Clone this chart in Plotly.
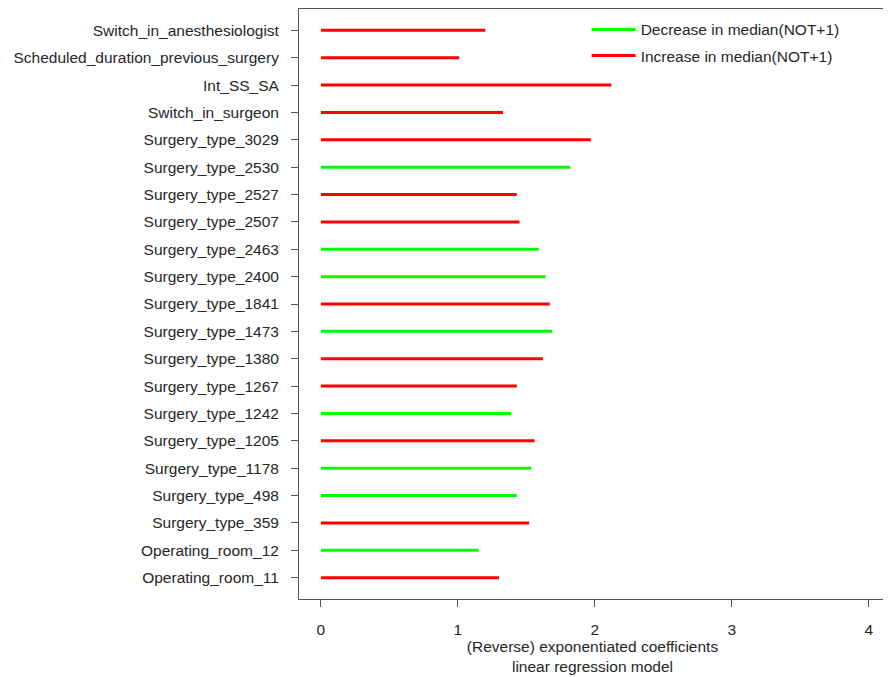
import plotly.graph_objects as go

# categories listed from top to bottom
variables = [
    "Switch_in_anesthesiologist",
    "Scheduled_duration_previous_surgery",
    "Int_SS_SA",
    "Switch_in_surgeon",
    "Surgery_type_3029",
    "Surgery_type_2530",
    "Surgery_type_2527",
    "Surgery_type_2507",
    "Surgery_type_2463",
    "Surgery_type_2400",
    "Surgery_type_1841",
    "Surgery_type_1473",
    "Surgery_type_1380",
    "Surgery_type_1267",
    "Surgery_type_1242",
    "Surgery_type_1205",
    "Surgery_type_1178",
    "Surgery_type_498",
    "Surgery_type_359",
    "Operating_room_12",
    "Operating_room_11",
]
coefficients = [1.20, 1.01, 2.12, 1.33, 1.97, 1.82, 1.43, 1.45, 1.59, 1.64, 1.67,
                1.69, 1.62, 1.43, 1.39, 1.56, 1.535, 1.43, 1.52, 1.15, 1.30]
direction = ["inc", "inc", "inc", "inc", "inc", "dec", "inc", "inc", "dec", "dec", "inc",
             "dec", "inc", "inc", "dec", "inc", "dec", "dec", "inc", "dec", "inc"]

x_ticks = [0, 1, 2, 3, 4]
series_names = {"dec": "Decrease in median(NOT+1)", "inc": "Increase in median(NOT+1)"}
series_colors = {"dec": "#00FF00", "inc": "#FF0000"}

fig = go.Figure()
for key in ["dec", "inc"]:
    xs, ys = [], []
    for v, c, d in zip(variables, coefficients, direction):
        if d == key:
            xs += [0, c, None]
            ys += [v, v, None]
    fig.add_trace(go.Scatter(
        x=xs, y=ys, mode="lines", name=series_names[key], legendgroup=key,
        line=dict(color=series_colors[key], width=3),
        connectgaps=False,
    ))

axis_color = "#555555"
font_family = "Liberation Sans, Arial, sans-serif"
fs = 15.5

# the page body has an 8px margin, so the figure is sized 8px smaller
fig.update_layout(
    width=883, height=669,
    margin=dict(l=291, r=5, t=1, b=78, autoexpand=False),
    paper_bgcolor="white", plot_bgcolor="white",
    font=dict(family=font_family, size=fs, color="#262626"),
    showlegend=True,
    legend=dict(x=0.490, y=0.9935, xanchor="left", yanchor="top",
                bgcolor="rgba(0,0,0,0)", font=dict(size=fs, color="#262626"),
                tracegroupgap=3, itemwidth=44),
    xaxis=dict(
        range=[-0.16, 4.125], tickvals=x_ticks, ticktext=[str(t) for t in x_ticks],
        showgrid=False, zeroline=False, showline=True, mirror=True,
        linecolor=axis_color, linewidth=1, ticks="outside", ticklen=7,
        tickcolor=axis_color, tickfont=dict(size=fs), ticklabelstandoff=9,
        title=dict(text="(Reverse) exponentiated coefficients<br>linear regression model",
                   font=dict(size=fs), standoff=3),
    ),
    yaxis=dict(
        type="category", categoryorder="array", categoryarray=variables[::-1],
        range=[-0.78, len(variables) - 0.22],
        showgrid=False, zeroline=False, showline=True, mirror=True,
        linecolor=axis_color, linewidth=1, ticks="outside", ticklen=7,
        tickcolor=axis_color, tickfont=dict(size=fs), ticklabelstandoff=9,
    ),
)

fig.write_html("out.html")
